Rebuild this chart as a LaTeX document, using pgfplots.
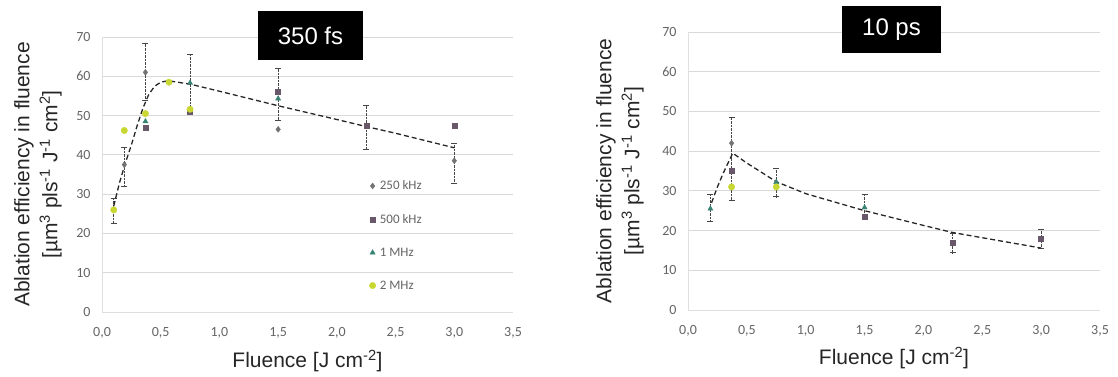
\documentclass[border=0pt]{standalone}
\usepackage{pgfplots}
\pgfplotsset{compat=1.18}
\usepackage{fontspec}
\setmainfont{Liberation Sans}
\newfontfamily\calibri{Carlito}
\definecolor{cA}{RGB}{115,115,115}
\definecolor{cB}{RGB}{105,88,105}
\definecolor{cC}{RGB}{55,130,115}
\definecolor{cD}{RGB}{200,215,50}
\definecolor{tick}{RGB}{100,100,100}
\definecolor{errc}{RGB}{70,70,70}
\begin{document}
\begin{tikzpicture}
\path[use as bounding box] (0pt,0pt) rectangle (1118pt,376pt);
\pgfplotsset{
 myax/.style={
  scale only axis,
  xmin=0,xmax=3.5,ymin=0,ymax=70,
  xtick={0,0.5,1,1.5,2,2.5,3,3.5},
  xticklabels={{0,0},{0,5},{1,0},{1,5},{2,0},{2,5},{3,0},{3,5}},
  ytick={0,10,20,30,40,50,60,70},
  yticklabels={0,10,20,30,40,50,60,70},
  ymajorgrids, major grid style={draw=gray!30, line width=0.8pt},
  axis x line*=bottom, axis y line*=left,
  axis line style={-, draw=gray!25, line width=0.8pt},
  major tick length=0pt,
  xticklabel style={font=\calibri\fontsize{14}{16}\selectfont, text=tick, yshift=-12pt},
  yticklabel style={font=\calibri\fontsize{14}{16}\selectfont, text=tick, xshift=-8pt},
  ylabel style={align=center, font=\fontsize{21}{28}\selectfont, anchor=center, text=black!85},
  xlabel style={font=\fontsize{21}{25}\selectfont, anchor=center, text=black!85},
  xlabel={Fluence [J cm\textsuperscript{-2}]},
  ylabel={Ablation efficiency in fluence\\{[}µm\textsuperscript{3} pls\textsuperscript{-1} J\textsuperscript{-1} cm\textsuperscript{2}]},
  legend image code/.code={\draw[mark repeat=2,mark phase=2,##1] plot coordinates {(0pt,0pt)(3pt,0pt)(6pt,0pt)};},
 },
 sA/.style={only marks, mark=diamond*, mark size=3pt, color=cA},
 sB/.style={only marks, mark=square*, mark size=2.5pt, color=cB},
 sC/.style={only marks, mark=triangle*, mark size=3pt, color=cC},
 sD/.style={only marks, mark=*, mark size=3.2pt, color=cD},
 eb/.style={forget plot, draw=none, mark=none,
   error bars/.cd, y dir=both, y explicit,
   error bar style={errc, densely dotted, line width=0.8pt},
   error mark options={rotate=90, mark size=3pt, solid, errc, line width=0.7pt}},
 fit/.style={forget plot, black!85, line width=1.3pt, dash pattern=on 5pt off 3pt, mark=none},
}
% ---------------- 350 fs ----------------
\begin{axis}[myax, width=411pt, height=275pt, at={(102pt,64pt)}, anchor=south west,
  ylabel style={at={(axis description cs:-0.156,0.5)}},
  xlabel style={at={(axis description cs:0.5,-0.178)}},
  legend style={draw=none, fill=none, at={(axis cs:2.25,34.5)}, anchor=north west,
    font=\calibri\fontsize{13}{15}\selectfont, text=tick, row sep=19pt,
    /tikz/every odd column/.style={column sep=2pt}},
  legend cell align=left]
\addplot[sA] coordinates {(0.19,37.5) (0.37,61) (1.5,46.5) (3.0,38.5)};
\addlegendentry{250 kHz}
\addplot[sB] coordinates {(0.37,46.8) (0.75,51) (1.5,56) (2.25,47.5) (3.0,47.5)};
\addlegendentry{500 kHz}
\addplot[sC] coordinates {(0.37,48.5) (0.75,58.3) (1.5,54.3)};
\addlegendentry{1 MHz}
\addplot[sD] coordinates {(0.1,26) (0.19,46.2) (0.37,50.5) (0.57,58.5) (0.75,51.6)};
\addlegendentry{2 MHz}
\addplot[eb] coordinates {(0.1,25.75) +- (0,3.25) (0.19,37) +- (0,5) (0.37,61.15) +- (0,7.15)
  (0.75,58.5) +- (0,7) (1.5,55.45) +- (0,6.55) (2.25,47.1) +- (0,5.6) (3.0,37.9) +- (0,5.1)};
\addplot[fit] coordinates {(0.1,27) (0.15,33) (0.2,38) (0.25,42.5) (0.3,47.5) (0.35,52) (0.4,55.5)
  (0.45,57.5) (0.5,58.5) (0.55,58.8) (0.6,58.7) (0.75,58) (1.0,56.2) (1.5,52.5) (2.0,49)
  (2.25,47.2) (2.5,45.5) (3.0,41.8)};
\end{axis}
% ---------------- 10 ps ----------------
\begin{axis}[myax, width=412pt, height=278pt, at={(688pt,66pt)}, anchor=south west,
  ylabel style={at={(axis description cs:-0.165,0.5)}},
  xlabel style={at={(axis description cs:0.5,-0.173)}}]
\addplot[sA] coordinates {(0.37,42)};
\addplot[sB] coordinates {(0.37,35.2) (1.5,23.4) (2.25,17) (3.0,18)};
\addplot[sC] coordinates {(0.19,25.5) (0.75,32.2) (1.5,25.8)};
\addplot[sD] coordinates {(0.37,31) (0.75,31)};
\addplot[eb] coordinates {(0.19,25.6) +- (0,3.4) (0.37,38.05) +- (0,10.35) (0.75,32.1) +- (0,3.6)
  (1.5,26) +- (0,3) (2.25,16.9) +- (0,2.5) (3.0,17.8) +- (0,2.4)};
\addplot[fit] coordinates {(0.2,27) (0.25,31) (0.3,34.5) (0.38,39.5) (0.5,37) (0.75,32.3) (1.0,29.3)
  (1.5,25) (2.0,21.3) (2.25,19.5) (2.5,18.2) (3.0,15.6)};
\end{axis}
\node[fill=black, text=white, minimum width=105pt, minimum height=49pt, inner sep=0pt,
  font=\fontsize{24}{28}\selectfont] at (310.5pt,340.5pt) {350 fs};
\node[fill=black, text=white, minimum width=99pt, minimum height=47pt, inner sep=0pt,
  font=\fontsize{24}{28}\selectfont] at (891.5pt,346.5pt) {10 ps};
\end{tikzpicture}
\end{document}
